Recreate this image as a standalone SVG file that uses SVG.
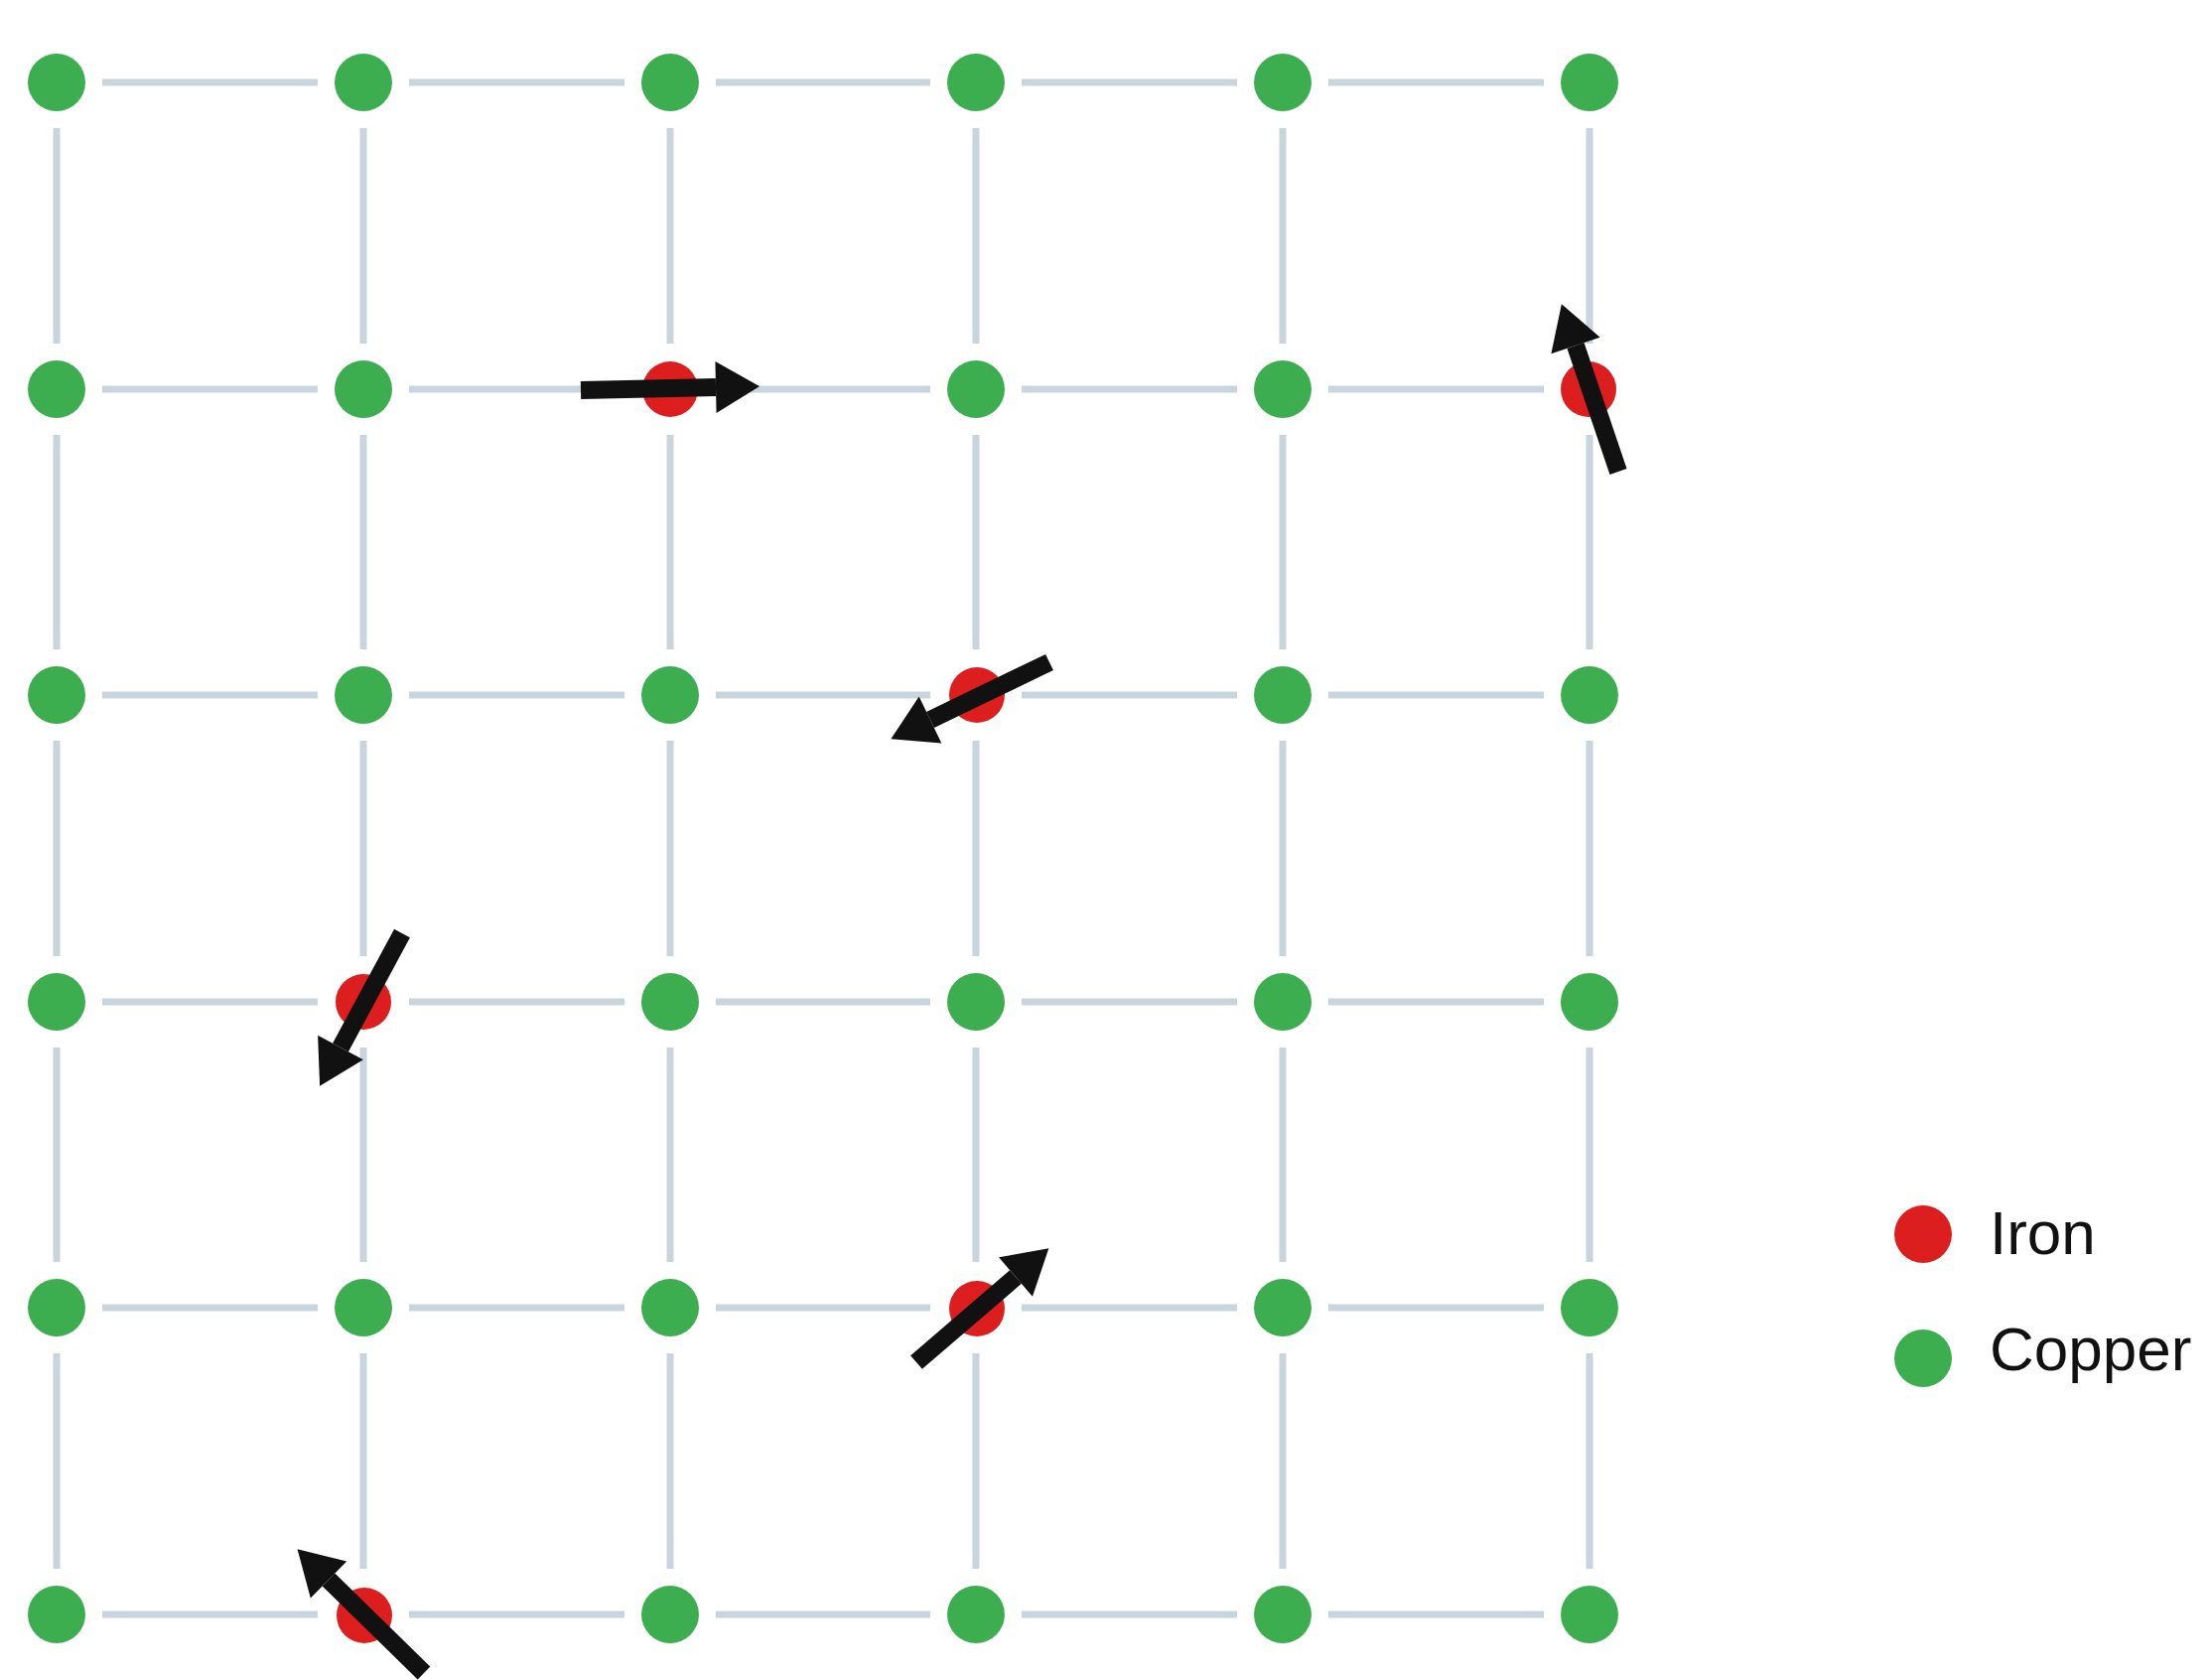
<svg xmlns="http://www.w3.org/2000/svg" width="2227" height="1692" viewBox="0 0 2227 1692">
<style>
.bond{stroke:#c9d5dc;stroke-width:7;fill:none}
.cu{fill:#3cae50}
.fe{fill:#dc1e1e}
.spin{stroke:#111;stroke-width:18;fill:none;marker-end:url(#head)}
.lbl{font-family:"Liberation Sans",Arial,sans-serif;font-size:62px;fill:#111}
</style>
<defs>
<marker id="head" markerUnits="userSpaceOnUse" markerWidth="46" markerHeight="56" refX="0" refY="28" orient="auto" overflow="visible">
<path d="M0,2 L44,28 L0,54 z" fill="#111"/>
</marker>
</defs>
<rect width="2227" height="1692" fill="#fff"/>
<g id="connectors">
<line class="bond" x1="103" y1="83" x2="320" y2="83"/><line class="bond" x1="412" y1="83" x2="629" y2="83"/><line class="bond" x1="721" y1="83" x2="937" y2="83"/><line class="bond" x1="1029" y1="83" x2="1246" y2="83"/><line class="bond" x1="1338" y1="83" x2="1555" y2="83"/>
<line class="bond" x1="103" y1="392" x2="320" y2="392"/><line class="bond" x1="412" y1="392" x2="629" y2="392"/><line class="bond" x1="721" y1="392" x2="937" y2="392"/><line class="bond" x1="1029" y1="392" x2="1246" y2="392"/><line class="bond" x1="1338" y1="392" x2="1555" y2="392"/>
<line class="bond" x1="103" y1="700" x2="320" y2="700"/><line class="bond" x1="412" y1="700" x2="629" y2="700"/><line class="bond" x1="721" y1="700" x2="937" y2="700"/><line class="bond" x1="1029" y1="700" x2="1246" y2="700"/><line class="bond" x1="1338" y1="700" x2="1555" y2="700"/>
<line class="bond" x1="103" y1="1009" x2="320" y2="1009"/><line class="bond" x1="412" y1="1009" x2="629" y2="1009"/><line class="bond" x1="721" y1="1009" x2="937" y2="1009"/><line class="bond" x1="1029" y1="1009" x2="1246" y2="1009"/><line class="bond" x1="1338" y1="1009" x2="1555" y2="1009"/>
<line class="bond" x1="103" y1="1317" x2="320" y2="1317"/><line class="bond" x1="412" y1="1317" x2="629" y2="1317"/><line class="bond" x1="721" y1="1317" x2="937" y2="1317"/><line class="bond" x1="1029" y1="1317" x2="1246" y2="1317"/><line class="bond" x1="1338" y1="1317" x2="1555" y2="1317"/>
<line class="bond" x1="103" y1="1626" x2="320" y2="1626"/><line class="bond" x1="412" y1="1626" x2="629" y2="1626"/><line class="bond" x1="721" y1="1626" x2="937" y2="1626"/><line class="bond" x1="1029" y1="1626" x2="1246" y2="1626"/><line class="bond" x1="1338" y1="1626" x2="1555" y2="1626"/>
<line class="bond" x1="57" y1="129" x2="57" y2="346"/><line class="bond" x1="57" y1="438" x2="57" y2="654"/><line class="bond" x1="57" y1="746" x2="57" y2="963"/><line class="bond" x1="57" y1="1055" x2="57" y2="1271"/><line class="bond" x1="57" y1="1363" x2="57" y2="1580"/>
<line class="bond" x1="366" y1="129" x2="366" y2="346"/><line class="bond" x1="366" y1="438" x2="366" y2="654"/><line class="bond" x1="366" y1="746" x2="366" y2="963"/><line class="bond" x1="366" y1="1055" x2="366" y2="1271"/><line class="bond" x1="366" y1="1363" x2="366" y2="1580"/>
<line class="bond" x1="675" y1="129" x2="675" y2="346"/><line class="bond" x1="675" y1="438" x2="675" y2="654"/><line class="bond" x1="675" y1="746" x2="675" y2="963"/><line class="bond" x1="675" y1="1055" x2="675" y2="1271"/><line class="bond" x1="675" y1="1363" x2="675" y2="1580"/>
<line class="bond" x1="983" y1="129" x2="983" y2="346"/><line class="bond" x1="983" y1="438" x2="983" y2="654"/><line class="bond" x1="983" y1="746" x2="983" y2="963"/><line class="bond" x1="983" y1="1055" x2="983" y2="1271"/><line class="bond" x1="983" y1="1363" x2="983" y2="1580"/>
<line class="bond" x1="1292" y1="129" x2="1292" y2="346"/><line class="bond" x1="1292" y1="438" x2="1292" y2="654"/><line class="bond" x1="1292" y1="746" x2="1292" y2="963"/><line class="bond" x1="1292" y1="1055" x2="1292" y2="1271"/><line class="bond" x1="1292" y1="1363" x2="1292" y2="1580"/>
<line class="bond" x1="1601" y1="129" x2="1601" y2="346"/><line class="bond" x1="1601" y1="438" x2="1601" y2="654"/><line class="bond" x1="1601" y1="746" x2="1601" y2="963"/><line class="bond" x1="1601" y1="1055" x2="1601" y2="1271"/><line class="bond" x1="1601" y1="1363" x2="1601" y2="1580"/>
</g>
<g id="atoms">
<g id="n-0-0"><circle class="cu" cx="57" cy="83" r="29"/></g>
<g id="n-0-1"><circle class="cu" cx="366" cy="83" r="29"/></g>
<g id="n-0-2"><circle class="cu" cx="675" cy="83" r="29"/></g>
<g id="n-0-3"><circle class="cu" cx="983" cy="83" r="29"/></g>
<g id="n-0-4"><circle class="cu" cx="1292" cy="83" r="29"/></g>
<g id="n-0-5"><circle class="cu" cx="1601" cy="83" r="29"/></g>
<g id="n-1-0"><circle class="cu" cx="57" cy="392" r="29"/></g>
<g id="n-1-1"><circle class="cu" cx="366" cy="392" r="29"/></g>
<g id="n-1-2"><circle class="fe" cx="675" cy="392" r="28"/></g>
<g id="n-1-3"><circle class="cu" cx="983" cy="392" r="29"/></g>
<g id="n-1-4"><circle class="cu" cx="1292" cy="392" r="29"/></g>
<g id="n-1-5"><circle class="fe" cx="1600" cy="392" r="28"/></g>
<g id="n-2-0"><circle class="cu" cx="57" cy="700" r="29"/></g>
<g id="n-2-1"><circle class="cu" cx="366" cy="700" r="29"/></g>
<g id="n-2-2"><circle class="cu" cx="675" cy="700" r="29"/></g>
<g id="n-2-3"><circle class="fe" cx="984" cy="700" r="28"/></g>
<g id="n-2-4"><circle class="cu" cx="1292" cy="700" r="29"/></g>
<g id="n-2-5"><circle class="cu" cx="1601" cy="700" r="29"/></g>
<g id="n-3-0"><circle class="cu" cx="57" cy="1009" r="29"/></g>
<g id="n-3-1"><circle class="fe" cx="366" cy="1009" r="28"/></g>
<g id="n-3-2"><circle class="cu" cx="675" cy="1009" r="29"/></g>
<g id="n-3-3"><circle class="cu" cx="983" cy="1009" r="29"/></g>
<g id="n-3-4"><circle class="cu" cx="1292" cy="1009" r="29"/></g>
<g id="n-3-5"><circle class="cu" cx="1601" cy="1009" r="29"/></g>
<g id="n-4-0"><circle class="cu" cx="57" cy="1317" r="29"/></g>
<g id="n-4-1"><circle class="cu" cx="366" cy="1317" r="29"/></g>
<g id="n-4-2"><circle class="cu" cx="675" cy="1317" r="29"/></g>
<g id="n-4-3"><circle class="fe" cx="984" cy="1318" r="28"/></g>
<g id="n-4-4"><circle class="cu" cx="1292" cy="1317" r="29"/></g>
<g id="n-4-5"><circle class="cu" cx="1601" cy="1317" r="29"/></g>
<g id="n-5-0"><circle class="cu" cx="57" cy="1626" r="29"/></g>
<g id="n-5-1"><circle class="fe" cx="367" cy="1627" r="28"/></g>
<g id="n-5-2"><circle class="cu" cx="675" cy="1626" r="29"/></g>
<g id="n-5-3"><circle class="cu" cx="983" cy="1626" r="29"/></g>
<g id="n-5-4"><circle class="cu" cx="1292" cy="1626" r="29"/></g>
<g id="n-5-5"><circle class="cu" cx="1601" cy="1626" r="29"/></g>
</g>
<g id="spins">
<line class="spin" x1="585" y1="393" x2="721" y2="390"/>
<line class="spin" x1="1630" y1="475" x2="1587" y2="348"/>
<line class="spin" x1="1057" y1="667" x2="937" y2="725"/>
<line class="spin" x1="405" y1="940" x2="343" y2="1055"/>
<line class="spin" x1="923" y1="1372" x2="1023" y2="1286"/>
<line class="spin" x1="427" y1="1685" x2="331" y2="1591"/>
</g>
<g id="legend">
<g id="legend-iron"><circle class="fe" cx="1937" cy="1243" r="29"/><text class="lbl" x="2004" y="1263">Iron</text></g>
<g id="legend-copper"><circle class="cu" cx="1937" cy="1368" r="29"/><text class="lbl" x="2004" y="1380">Copper</text></g>
</g>
</svg>
